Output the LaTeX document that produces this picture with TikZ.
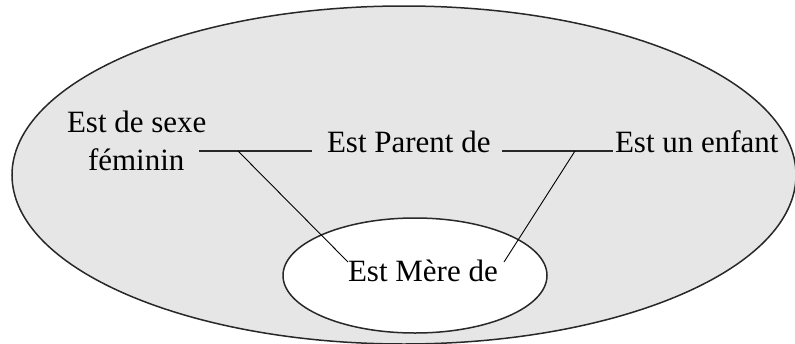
\documentclass[tikz,border=0pt]{standalone}
\usepackage{fontspec}
\setmainfont{Liberation Serif}
\definecolor{domain}{RGB}{230,230,230}
\definecolor{edge}{RGB}{40,40,40}
\tikzset{
  label/.style={anchor=base west, inner sep=0pt, outer sep=0pt,
    font=\fontsize{31}{33}\selectfont},
  region/.style={draw=edge, line width=1.5pt},
  bar/.style={draw=edge, line width=1.6pt},
  link/.style={draw=black, line width=0.9pt},
}
\begin{document}
\begin{tikzpicture}[x=1pt, y=-1pt]
  \useasboundingbox (0,0) rectangle (795,343);
  % the two regions
  \draw[region, fill=domain] (404,175) ellipse [x radius=392, y radius=169];
  \draw[region, fill=white] (415,275.5) ellipse [x radius=132, y radius=57.5];

  % concepts
  \node[label] (sexe) at (67,132) {Est de sexe};
  \node[label] (fem) at (88,170) {féminin};
  \node[label] (parent) at (327,152) {Est Parent de};
  \node[label] (enfant) at (615,152) {Est un enfant};
  \node[label] (mere) at (348,281) {Est Mère de};

  % junction points of the links
  \coordinate (b1a) at (199,151);
  \coordinate (b1b) at (312,151);
  \coordinate (b2a) at (502,151);
  \coordinate (b2b) at (613,151);
  \coordinate (j1) at (238,151);
  \coordinate (j2) at (575,151);
  \coordinate (m1) at (348,262);
  \coordinate (m2) at (504,262);

  \draw[bar] (b1a) -- (b1b);
  \draw[bar] (b2a) -- (b2b);
  \draw[link] (j1) -- (m1);
  \draw[link] (j2) -- (m2);
\end{tikzpicture}
\end{document}
